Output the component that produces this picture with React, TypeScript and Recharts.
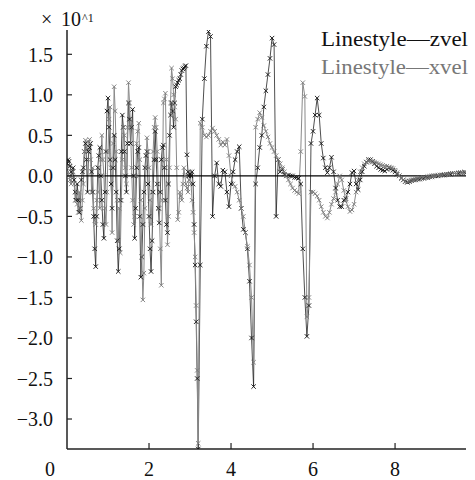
import React from "react";
import { LineChart, Line, XAxis, YAxis, ReferenceLine } from "recharts";

// time (s)
const t = [
  0, 0.025, 0.05, 0.075, 0.1, 0.125, 0.15, 0.175, 0.2, 0.225, 0.25, 0.275, 0.3, 0.325, 0.35, 0.375, 0.4, 0.425, 0.45, 0.475,
  0.5, 0.525, 0.55, 0.575, 0.6, 0.625, 0.65, 0.675, 0.7, 0.725, 0.75, 0.775, 0.8, 0.825, 0.85, 0.875, 0.9, 0.925, 0.95, 0.975,
  1, 1.025, 1.05, 1.075, 1.1, 1.125, 1.15, 1.175, 1.2, 1.225, 1.25, 1.275, 1.3, 1.325, 1.35, 1.375, 1.4, 1.425, 1.45, 1.475,
  1.5, 1.525, 1.55, 1.575, 1.6, 1.625, 1.65, 1.675, 1.7, 1.725, 1.75, 1.775, 1.8, 1.825, 1.85, 1.875, 1.9, 1.925, 1.95, 1.975,
  2, 2.025, 2.05, 2.075, 2.1, 2.125, 2.15, 2.175, 2.2, 2.225, 2.25, 2.275, 2.3, 2.325, 2.35, 2.375, 2.4, 2.425, 2.45, 2.475,
  2.5, 2.525, 2.55, 2.575, 2.6, 2.625, 2.65, 2.675, 2.7, 2.725, 2.75, 2.775, 2.8, 2.825, 2.85, 2.875, 2.9, 2.925, 2.95, 2.975,
  3, 3.025, 3.05, 3.075, 3.1, 3.125, 3.15, 3.175, 3.2,
  3.25, 3.3, 3.35, 3.4, 3.45, 3.5, 3.55, 3.6, 3.65, 3.7, 3.75, 3.8, 3.85, 3.9, 3.95,
  4, 4.05, 4.1, 4.15, 4.2, 4.25, 4.3, 4.35, 4.4, 4.45, 4.5, 4.55, 4.6, 4.65, 4.7, 4.75, 4.8, 4.85, 4.9, 4.95,
  5, 5.05, 5.1, 5.15, 5.2, 5.25, 5.3, 5.35, 5.4, 5.45, 5.5, 5.55, 5.6, 5.65, 5.7, 5.75, 5.8, 5.85, 5.9, 5.95,
  6, 6.05, 6.1, 6.15, 6.2, 6.25, 6.3, 6.35, 6.4, 6.45, 6.5, 6.55, 6.6, 6.65, 6.7, 6.75, 6.8, 6.85, 6.9, 6.95,
  7, 7.05, 7.1, 7.15, 7.2, 7.25, 7.3, 7.35, 7.4, 7.45, 7.5, 7.55, 7.6, 7.65, 7.7, 7.75, 7.8, 7.85, 7.9, 7.95,
  8, 8.05, 8.1, 8.15, 8.2, 8.25, 8.3, 8.35, 8.4, 8.45, 8.5, 8.55, 8.6, 8.65, 8.7, 8.75, 8.8, 8.85, 8.9, 8.95,
  9, 9.05, 9.1, 9.15, 9.2, 9.25, 9.3, 9.35, 9.4, 9.45, 9.5, 9.55, 9.6, 9.65, 9.7,
];

// z velocity (x10^1)
const zvel = [
  0.15, 0.2, 0.18, 0.12, 0.05, 0.0, 0.1, -0.05, -0.2, -0.3, -0.1, -0.3, -0.45, -0.4, -0.05, 0.05, 0.1, 0.3, 0.4, 0.2,
  -0.2, 0.3, 0.35, 0.4, 0.05, -0.2, -0.5, -0.9, -1.12, -0.5, 0.1, 0.25, 0.35, 0.0, -0.3, -0.6, -0.77, -0.2, 0.3, 0.8,
  0.96, 0.6, 0.2, -0.1, -0.4, 0.1, 0.5, 0.2, -0.2, -0.8, -1.18, -0.9, -0.3, 0.3, 0.75, 0.6, 0.3, 0.0, -0.2, 0.4,
  0.9, 0.7, 0.4, 0.6, 0.82, 0.0, -0.77, -0.4, 0.1, 0.3, 0.35, -0.5, -1.25, -1.0, -0.6, -0.2, 0.1, 0.25, 0.3, -0.1,
  -0.5, -0.9, -1.18, -0.8, -0.2, 0.2, 0.55, 0.2, -0.1, -0.4, -0.58, -0.2, 0.2, 0.35, 0.38, 0.1, -0.3, -0.6, -0.7, -0.1,
  0.5, 0.75, 0.9, 0.8, 0.6, 0.9, 1.1, 1.12, 1.15, 1.18, 1.2, 1.25, 1.3, 1.32, 1.33, 1.35, 1.36, 0.26, 0.05, 0.0,
  0.02, 0.0, 0.05, -0.1, -0.6, -1.1, -1.8, -2.5, -3.37,
  -1.1, 0.7, 1.2, 1.6, 1.78, 1.72, -0.5, 0.0, 0.16, -0.1, -0.13, 0.07, 0.05, -0.2, -0.38,
  -0.1, 0.05, 0.2, 0.3, 0.36, -0.4, -0.66, -0.7, -0.9, -1.3, -2.0, -2.6, -0.1, 0.1, 0.35, 0.5, 0.85, 1.05, 1.25, 1.45,
  1.7, 1.62, -0.5, 0.2, 0.05, 0.08, 0.02, 0.0, 0.01, 0.0, 0.0, -0.02, -0.02, -0.03, -0.1, -0.9, -1.5, -1.98, -1.6, 0.4,
  0.55, 0.75, 0.96, 0.75, 0.4, 0.22, 0.1, 0.04, 0.1, 0.23, 0.05, -0.15, -0.3, -0.38, -0.38, -0.3, -0.28, -0.2, -0.1, 0.04,
  0.06, -0.1, -0.17, -0.05, 0.05, 0.12, 0.17, 0.2, 0.2, 0.18, 0.15, 0.12, 0.1, 0.08, 0.07, 0.06, 0.08, 0.1, 0.09, 0.07,
  0.05, 0.02, 0.0, -0.03, -0.05, -0.07, -0.08, -0.07, -0.06, -0.05, -0.05, -0.04, -0.04, -0.03, -0.03, -0.02, -0.02, -0.01, -0.01, 0.0,
  0.0, 0.0, 0.01, 0.01, 0.01, 0.02, 0.02, 0.02, 0.03, 0.03, 0.03, 0.03, 0.04, 0.04, 0.04,
];

// x velocity (x10^1)
const xvel = [
  0.1, 0.05, 0.0, -0.05, -0.1, 0.0, 0.05, -0.1, -0.3, -0.2, -0.35, -0.45, -0.2, -0.4, -0.55, -0.3, -0.1, 0.3, 0.44, 0.35,
  0.3, 0.42, 0.45, 0.2, -0.2, 0.1, -0.4, -0.55, -0.6, -0.3, -0.2, 0.1, -0.4, 0.2, 0.5, 0.2, 0.0, -0.4, -0.6, -0.2,
  0.3, 0.7, 0.85, 0.1, -0.7, 0.4, 1.1, 0.8, 0.3, -0.3, -0.8, -0.4, -0.95, -0.3, 0.2, 0.6, 0.5, 0.1, -0.1, 0.6,
  1.15, 0.9, 0.6, 0.1, -0.3, -0.6, -0.5, 0.0, 0.4, 0.55, 0.65, 0.2, -0.3, -1.0, -1.53, -1.2, -0.4, 0.1, 0.47, 0.3,
  0.1, -0.3, -0.6, -0.2, 0.3, 0.6, 0.72, 0.6, 0.3, -0.1, -0.4, -0.9, -1.35, -0.3, 0.9, 0.95, 1.02, 0.2, -0.85, -0.5,
  0.1, 0.9, 1.33, 1.2, 1.0, 0.85, 0.7, 0.1, -0.54, -0.45, -0.2, -0.25, -0.3, -0.1, 0.1, 0.0, -0.1, -0.15, -0.2, -0.05,
  0.05, -0.1, -0.3, -0.45, -0.7, -1.0, -1.6, -2.4, -3.3,
  0.65, 0.6, 0.5, 0.48, 0.5, 0.55, 0.59, 0.55, 0.5, 0.45, 0.38, 0.42, 0.38, 0.45, 0.25,
  0.0, -0.1, -0.13, -0.2, -0.3, -0.4, -0.5, -0.7, -0.87, -1.1, -1.5, -2.3, 0.6, 0.7, 0.78, 0.72, 0.62, 0.55, 0.48, 0.4,
  0.35, 0.3, 0.25, 0.2, 0.15, 0.1, 0.05, 0.0, -0.05, -0.1, -0.15, -0.18, -0.2, -0.22, 0.3, 1.15, 0.98, -1.74, -1.5, -0.2,
  -0.2, -0.22, -0.25, -0.3, -0.38, -0.45, -0.5, -0.52, -0.45, -0.35, -0.28, -0.2, -0.1, 0.0, -0.05, -0.18, -0.3, -0.38, -0.44, -0.42,
  -0.35, -0.2, -0.05, 0.05, 0.1, 0.15, 0.17, 0.18, 0.18, 0.17, 0.17, 0.16, 0.15, 0.14, 0.13, 0.12, 0.12, 0.11, 0.1, 0.09,
  0.07, 0.04, 0.0, -0.03, -0.05, -0.07, -0.07, -0.06, -0.05, -0.05, -0.04, -0.04, -0.03, -0.03, -0.02, -0.02, -0.01, -0.01, 0.0, 0.0,
  0.0, 0.01, 0.01, 0.01, 0.02, 0.02, 0.02, 0.03, 0.03, 0.03, 0.03, 0.04, 0.04, 0.04, 0.05,
];

const xTicks = [0, 2, 4, 6, 8];
const yTicks = [-3, -2.5, -2, -1.5, -1, -0.5, 0, 0.5, 1, 1.5];

const data = t.map((v, i) => ({ t: v, zvel: zvel[i], xvel: xvel[i] }));

const FONT = "Liberation Serif, Times New Roman, DejaVu Serif, serif";
const PLOT_LEFT = 67;
const PLOT_BOTTOM = 449;

const cross = (color: string) => (props: any) => {
  const { cx, cy, index } = props;
  if (cx == null || cy == null) return <g key={index} />;
  const s = 2.2;
  return (
    <path
      key={index}
      d={`M${cx - s},${cy - s}L${cx + s},${cy + s}M${cx - s},${cy + s}L${cx + s},${cy - s}`}
      stroke={color}
      strokeWidth={0.9}
      fill="none"
    />
  );
};

const fmt = (v: number) => (v < 0 ? "\u2212" + Math.abs(v).toFixed(1) : v.toFixed(1));

const YTick = (props: any) => {
  const { y, payload } = props;
  return (
    <g>
      <line x1={PLOT_LEFT} x2={PLOT_LEFT + 5} y1={y} y2={y} stroke="#222" strokeWidth={1.2} />
      <text x={53} y={y} dy="0.36em" textAnchor="end" fontSize={20} style={{ fontFamily: FONT }} fill="#111">
        {fmt(payload.value)}
      </text>
    </g>
  );
};

const XTick = (props: any) => {
  const { x, payload } = props;
  const v = payload.value;
  return (
    <g>
      {v !== 0 && <line x1={x} x2={x} y1={PLOT_BOTTOM} y2={PLOT_BOTTOM - 6} stroke="#222" strokeWidth={1.2} />}
      <text x={v === 0 ? 50 : x} y={476} textAnchor="middle" fontSize={20} style={{ fontFamily: FONT }} fill="#111">
        {v}
      </text>
    </g>
  );
};

export default function App() {
  return (
    <div style={{ position: "absolute", left: 0, top: 0, width: 475, height: 480, background: "#fff", fontFamily: FONT }}>
      <LineChart width={475} height={480} data={data} margin={{ top: 30, right: 9, bottom: 0, left: 7 }}>
        <XAxis
          dataKey="t"
          type="number"
          domain={[0, 9.73]}
          ticks={xTicks}
          allowDataOverflow
          height={31}
          tickSize={0}
          tickLine={false}
          tick={<XTick />}
          axisLine={{ stroke: "#222", strokeWidth: 1.5 }}
        />
        <YAxis
          type="number"
          domain={[-3.37, 1.8]}
          ticks={yTicks}
          allowDataOverflow
          width={60}
          tickSize={0}
          tickLine={false}
          tick={<YTick />}
          axisLine={{ stroke: "#222", strokeWidth: 1.5 }}
        />
        <Line
          dataKey="zvel"
          type="linear"
          stroke="#222"
          strokeWidth={0.8}
          dot={cross("#111")}
          activeDot={false}
          isAnimationActive={false}
        />
        <Line
          dataKey="xvel"
          type="linear"
          stroke="#8a8a8a"
          strokeWidth={1}
          dot={cross("#7a7a7a")}
          activeDot={false}
          isAnimationActive={false}
        />
        <ReferenceLine y={0} stroke="#000" strokeWidth={1.3} />
      </LineChart>
      <svg width={475} height={480} style={{ position: "absolute", left: 0, top: 0, pointerEvents: "none", fontFamily: FONT }}>
        <text x={41} y={26} fontSize={20} fill="#111">×</text>
        <text x={61} y={26} fontSize={20} fill="#111">10</text>
        <text x={82} y={22} fontSize={12} fill="#111">^1</text>
        <text x={321} y={46} fontSize={20} fill="#111" textLength={147} lengthAdjust="spacingAndGlyphs">
          Linestyle—zvel
        </text>
        <text x={321} y={74} fontSize={20} fill="#777" textLength={147} lengthAdjust="spacingAndGlyphs">
          Linestyle—xvel
        </text>
      </svg>
    </div>
  );
}
